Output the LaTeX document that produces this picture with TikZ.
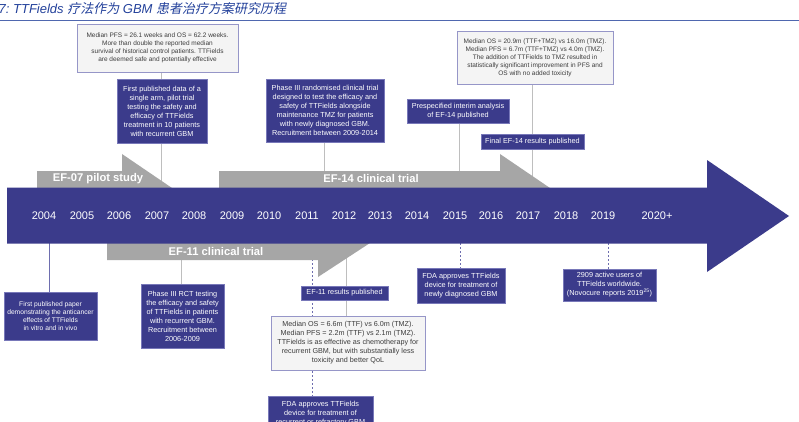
\documentclass[tikz,border=0pt]{standalone}
\usepackage{fontspec}
\setmainfont{Liberation Sans}
\newfontfamily\cjk[FakeSlant=0.2]{Noto Sans CJK SC}
\definecolor{navy}{RGB}{59,59,139}
\definecolor{navyedge}{RGB}{120,120,185}
\definecolor{arrgray}{RGB}{166,166,166}
\definecolor{lngray}{RGB}{190,190,190}
\definecolor{dashpur}{RGB}{110,110,175}
\definecolor{graybg}{RGB}{244,244,244}
\definecolor{grayedge}{RGB}{150,150,200}
\definecolor{titleblue}{RGB}{35,65,155}
\definecolor{txtgray}{RGB}{60,60,60}
\pgfdeclarelayer{lines}
\pgfdeclarelayer{bars}
\pgfsetlayers{lines,bars,main}
\tikzset{
  bluebox/.style={fill=navy, draw=navyedge, line width=0.6pt, text=white, align=center,
    font=\fontsize{7.3}{9}\selectfont, inner sep=1pt},
  graybox/.style={fill=graybg, draw=grayedge, line width=0.9pt, text=txtgray, align=center,
    font=\fontsize{6.5}{8}\selectfont, inner sep=1pt},
  yearlbl/.style={text=white, font=\fontsize{11}{13}\selectfont, inner sep=0pt},
  arrlbl/.style={text=white, font=\bfseries\fontsize{11.2}{13}\selectfont, inner sep=0pt},
  solidln/.style={draw=lngray, line width=0.9pt},
  purln/.style={draw=dashpur, line width=0.8pt},
  dashln/.style={draw=dashpur, line width=0.8pt, dash pattern=on 2pt off 2pt},
}
\begin{document}
\begin{tikzpicture}[x=1pt,y=-1pt]
\useasboundingbox (0,0) rectangle (799,422);
\clip (0,0) rectangle (799,422);
\begin{pgfonlayer}{lines}
\fill[white] (0,0) rectangle (799,422);
\end{pgfonlayer}

% title
\node[anchor=base west, inner sep=0pt, text=titleblue, font=\fontsize{13}{15}\selectfont] (title) at (-1.5,13.5)
  {\itshape 7:\ TTFields {\cjk 疗法作为} GBM {\cjk 患者治疗方案研究历程}};
\draw[draw=titleblue!80, line width=1.2pt] (0,20.5) -- (799,20.5);

% anchor coordinates on the bars
\coordinate (a07) at (161,188);
\coordinate (a14c) at (324,171);
\coordinate (a14d) at (459,171);
\coordinate (a14e) at (532,188);
\coordinate (bG) at (49,243);
\coordinate (bH) at (181,260);
\coordinate (bI) at (312,243);
\coordinate (bJ) at (346,252);
\coordinate (bL) at (460,243);
\coordinate (bM) at (608,243);

% boxes
\node[graybox, minimum width=161, minimum height=48] (A) at (157.5,48)
  {Median PFS = 26.1 weeks and OS = 62.2 weeks.\\More than double the reported median\\survival of historical control patients. TTFields\\are deemed safe and potentially effective};
\node[bluebox, minimum width=90, minimum height=64] (B) at (162,111)
  {First published data of a\\single arm, pilot trial\\testing the safety and\\efficacy of TTFields\\treatment in 10 patients\\with recurrent GBM};
\node[bluebox, minimum width=118, minimum height=63] (C) at (325,110.5)
  {Phase III randomised clinical trial\\designed to test the efficacy and\\safety of TTFields alongside\\maintenance TMZ for patients\\with newly diagnosed GBM.\\Recruitment between 2009-2014};
\node[bluebox, minimum width=102, minimum height=24] (D) at (458,111)
  {Prespecified interim analysis\\of EF-14 published};
\node[graybox, minimum width=156, minimum height=53] (E) at (535,57.5)
  {Median OS = 20.9m (TTF+TMZ) vs 16.0m (TMZ).\\Median PFS = 6.7m (TTF+TMZ) vs 4.0m (TMZ).\\The addition of TTFields to TMZ resulted in\\statistically significant improvement in PFS and\\OS with no added toxicity};
\node[bluebox, minimum width=103, minimum height=15] (F) at (532.5,141.5)
  {Final EF-14 results published};
\node[bluebox, minimum width=93, minimum height=48, font=\fontsize{6.7}{8}\selectfont] (G) at (50.5,316)
  {First published paper\\demonstrating the anticancer\\effects of TTFields\\in vitro and in vivo};
\node[bluebox, minimum width=83, minimum height=64] (H) at (182.5,316)
  {Phase III RCT testing\\the efficacy and safety\\of TTFields in patients\\with recurrent GBM.\\Recruitment between\\2006-2009};
\node[bluebox, minimum width=87, minimum height=14] (I) at (344.5,293)
  {EF-11 results published};
\node[graybox, minimum width=154, minimum height=54, font=\fontsize{7.2}{9}\selectfont] (J) at (348,343)
  {Median OS = 6.6m (TTF) vs 6.0m (TMZ).\\Median PFS = 2.2m (TTF) vs 2.1m (TMZ).\\TTFields is as effective as chemotherapy for\\recurrent GBM, but with substantially less\\toxicity and better QoL};
\node[bluebox, minimum width=105, minimum height=36] (K) at (320.5,414)
  {FDA approves TTFields\\device for treatment of\\recurrent or refractory GBM};
\node[bluebox, minimum width=88, minimum height=35] (L) at (461,285.5)
  {FDA approves TTFields\\device for treatment of\\newly diagnosed GBM};
\node[bluebox, minimum width=93, minimum height=32] (M) at (609.5,285)
  {2909 active users of\\TTFields worldwide.\\(Novocure reports 2019\textsuperscript{25})};

% bars
\begin{pgfonlayer}{bars}
\fill[arrgray] (37,171) -- (122,171) -- (122,154) -- (172,188) -- (37,188) -- cycle;
\fill[arrgray] (219,171) -- (500,171) -- (500,154) -- (550,188) -- (219,188) -- cycle;
\fill[arrgray] (107,243) -- (370,243) -- (318,277) -- (318,260) -- (107,260) -- cycle;
\fill[navy] (7,187.5) -- (707,187.5) -- (707,160) -- (789,216) -- (707,272) -- (707,243.5) -- (7,243.5) -- cycle;
\end{pgfonlayer}
\node[arrlbl] (l07) at (98,178.5) {EF-07 pilot study};
\node[arrlbl] (l14) at (371,178.5) {EF-14 clinical trial};
\node[arrlbl] (l11) at (216,251.5) {EF-11 clinical trial};
\foreach \yr/\xx in {2004/44,2005/82,2006/119,2007/157,2008/194,2009/232,2010/269,2011/307,2012/344,2013/380,2014/417,2015/455,2016/491,2017/528,2018/566,2019/603}
  \node[yearlbl] (y\yr) at (\xx,216) {\yr};
\node[yearlbl] (y2020) at (657,216) {2020+};

% connectors
\begin{pgfonlayer}{lines}
\draw[solidln] (A.south -| a07) -- (a07);
\draw[solidln] (C.south -| a14c) -- (a14c);
\draw[solidln] (D.south -| a14d) -- (a14d);
\draw[solidln] (E.south -| a14e) -- (a14e);
\draw[purln] (bG) -- (G.north -| bG);
\draw[solidln] (bH) -- (H.north -| bH);
\draw[dashln] (bI) -- (K.north -| bI);
\draw[solidln] (bJ) -- (J.north -| bJ);
\draw[dashln] (bL) -- (L.north -| bL);
\draw[dashln] (bM) -- (M.north -| bM);
\end{pgfonlayer}
\end{tikzpicture}
\end{document}
